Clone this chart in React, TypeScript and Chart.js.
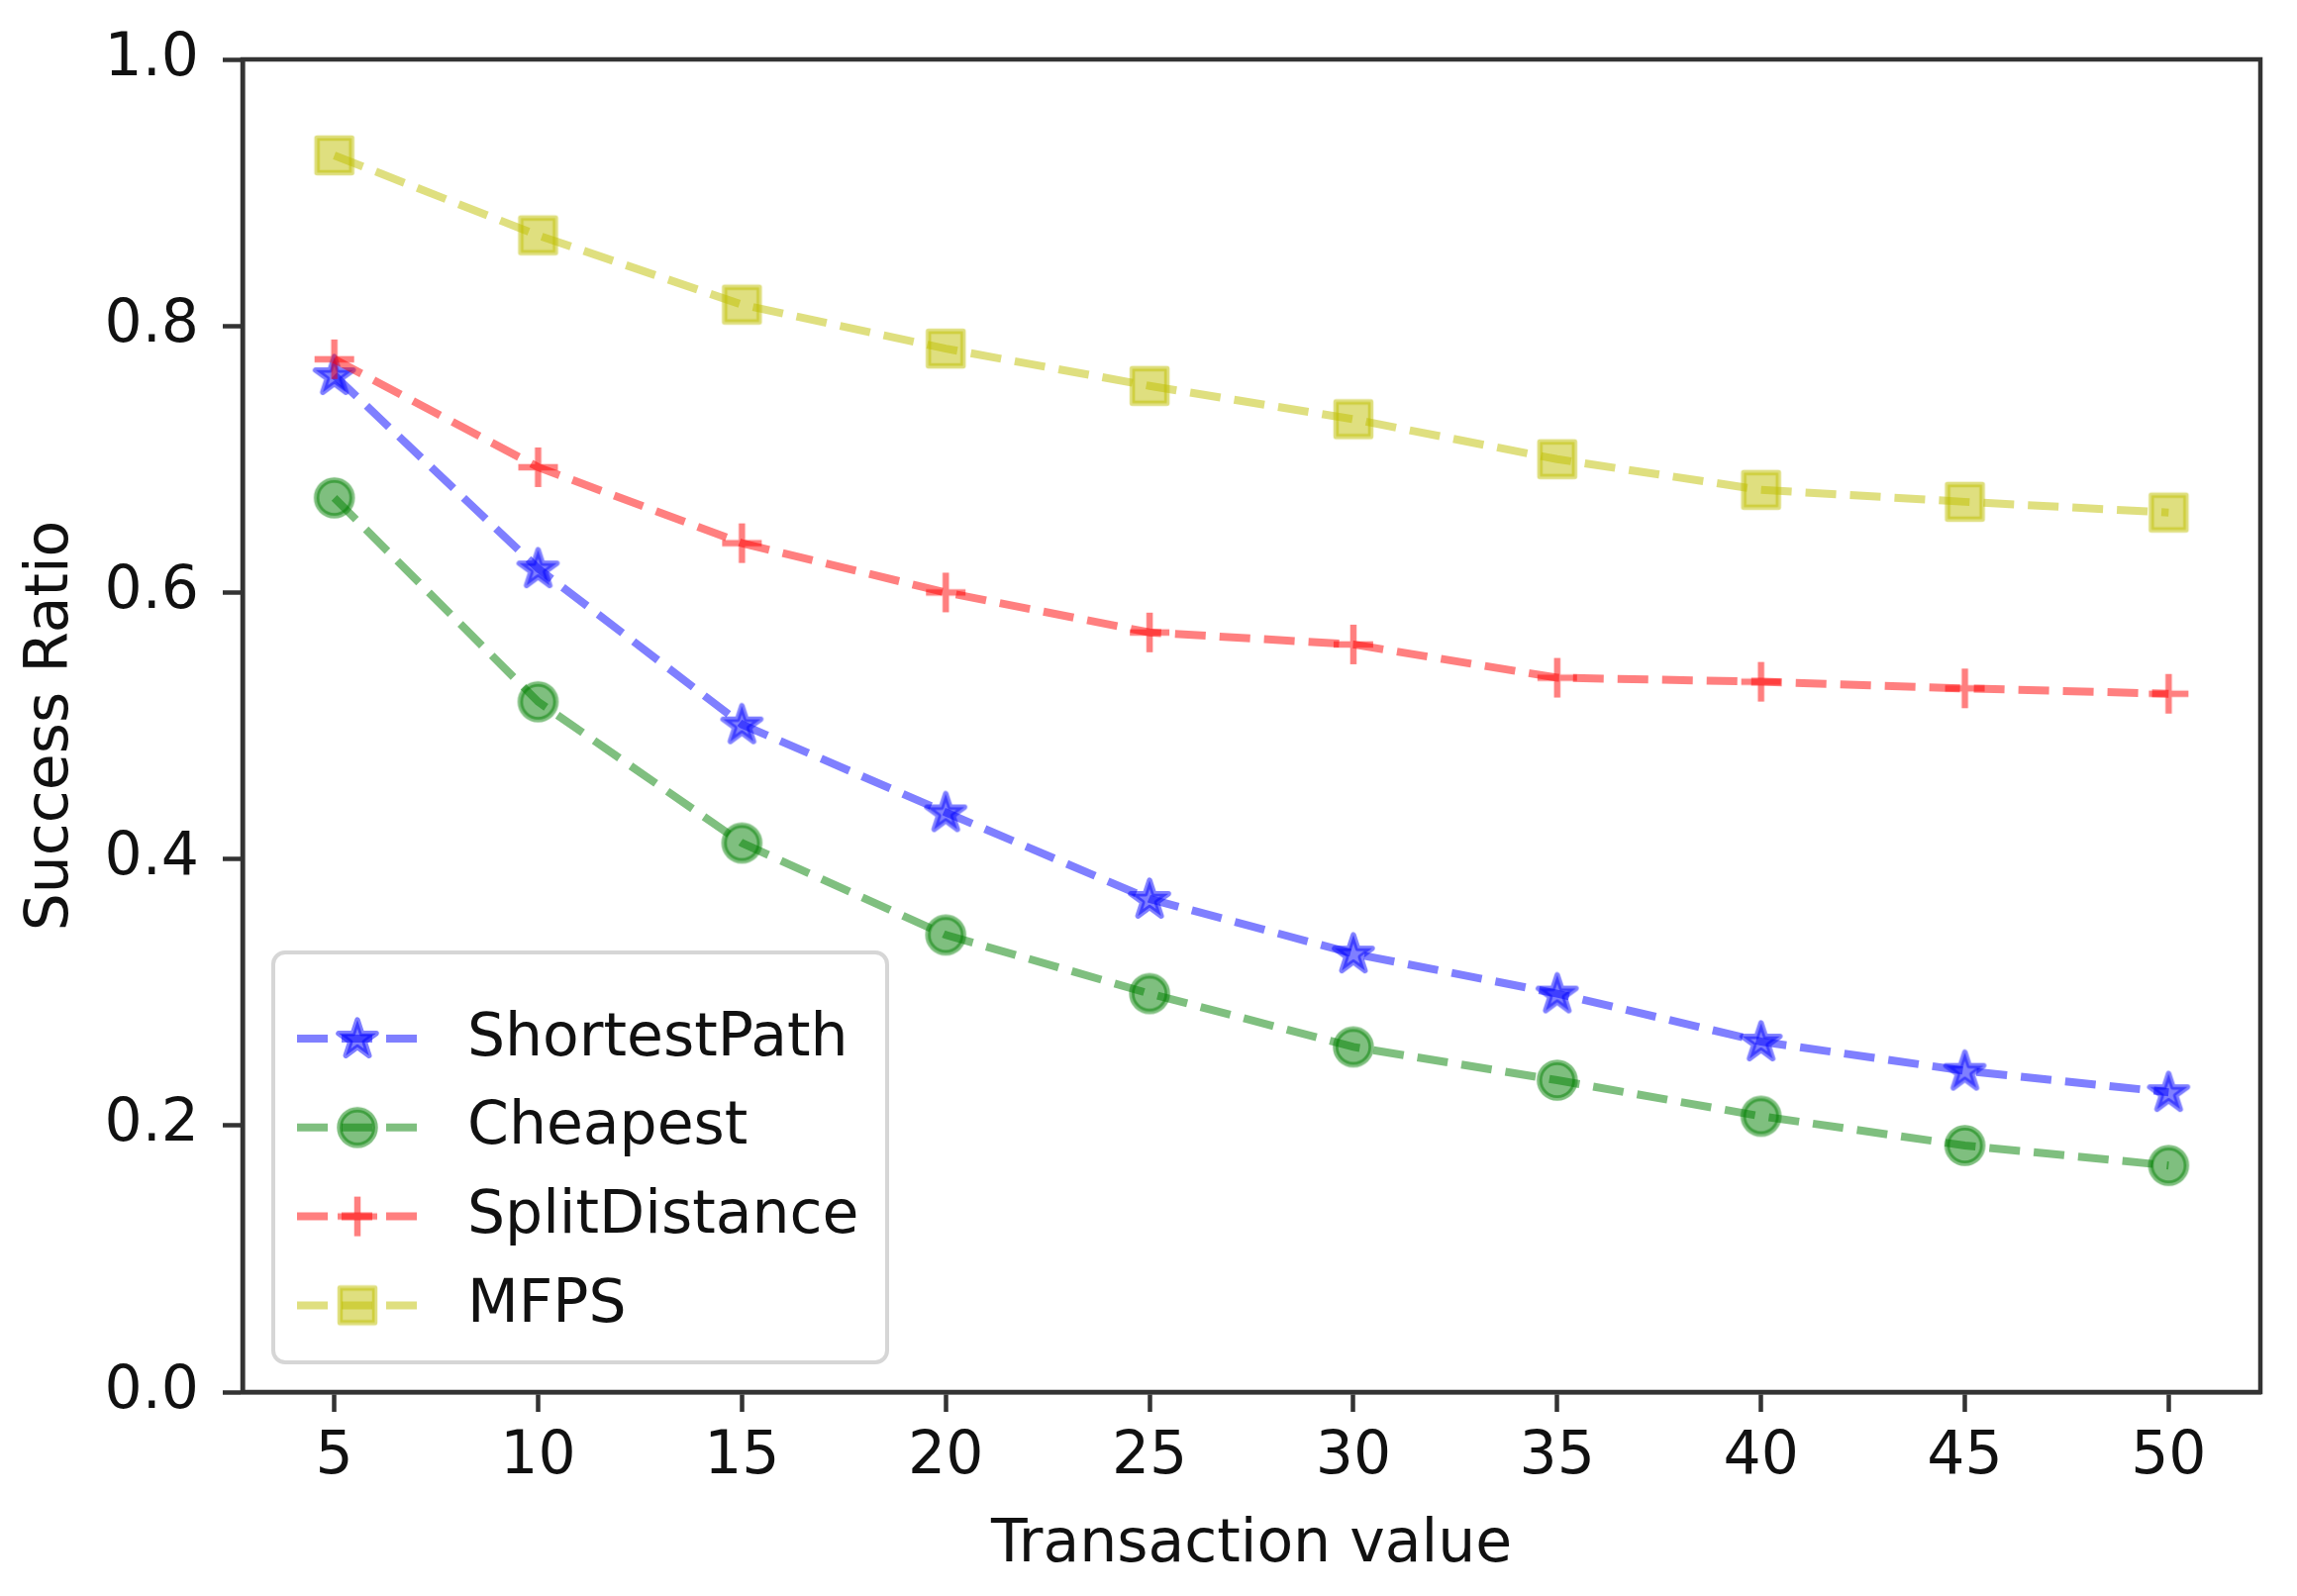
import React, { useEffect, useRef } from 'react';
import { Chart, registerables } from 'chart.js';

Chart.register(...registerables);

// ---- data ----
const xValues = [5, 10, 15, 20, 25, 30, 35, 40, 45, 50];
const shortestPath = [0.763, 0.618, 0.501, 0.435, 0.370, 0.329, 0.299, 0.263, 0.241, 0.225];
const cheapest = [0.671, 0.518, 0.412, 0.343, 0.299, 0.259, 0.234, 0.207, 0.185, 0.170];
const splitDistance = [0.775, 0.694, 0.637, 0.600, 0.570, 0.561, 0.536, 0.533, 0.528, 0.524];
const mfps = [0.928, 0.868, 0.816, 0.783, 0.755, 0.730, 0.700, 0.677, 0.668, 0.660];
const seriesLabels = ['ShortestPath', 'Cheapest', 'SplitDistance', 'MFPS'];
const xTickValues = [5, 10, 15, 20, 25, 30, 35, 40, 45, 50];
const yTickValues = [0.0, 0.2, 0.4, 0.6, 0.8, 1.0];
const xTitle = 'Transaction value';
const yTitle = 'Success Ratio';

// ---- styles ----
const FONT = 'DejaVu Sans';
const LINE_W = 8;
const DASH = [31, 14];
const seriesRGB = ['0,0,255', '0,128,0', '255,0,0', '191,191,0'];
const seriesMarker = ['star', 'circle', 'plus', 'square'];

function makeMarker(kind: string, rgb: string): HTMLCanvasElement {
  const size = 60;
  const c = document.createElement('canvas');
  c.width = size;
  c.height = size;
  const ctx = c.getContext('2d') as CanvasRenderingContext2D;
  const cx = size / 2;
  const cy = size / 2;
  const col = `rgba(${rgb},0.5)`;
  ctx.fillStyle = col;
  ctx.strokeStyle = col;
  ctx.lineWidth = 5.5;
  ctx.lineJoin = 'round';
  ctx.lineCap = 'butt';
  ctx.beginPath();
  if (kind === 'circle') {
    ctx.arc(cx, cy, 18, 0, Math.PI * 2);
  } else if (kind === 'square') {
    const r = 17.5;
    ctx.rect(cx - r, cy - r, 2 * r, 2 * r);
  } else if (kind === 'star') {
    const r = 20;
    const inner = r * 0.381966;
    for (let i = 0; i < 10; i++) {
      const rad = i % 2 === 0 ? r : inner;
      const a = -Math.PI / 2 + (i * Math.PI) / 5;
      const px = cx + rad * Math.cos(a);
      const py = cy + 1 + rad * Math.sin(a);
      if (i === 0) ctx.moveTo(px, py);
      else ctx.lineTo(px, py);
    }
    ctx.closePath();
  } else if (kind === 'plus') {
    const r = 20;
    ctx.lineWidth = 6.5;
    ctx.moveTo(cx - r, cy);
    ctx.lineTo(cx + r, cy);
    ctx.moveTo(cx, cy - r);
    ctx.lineTo(cx, cy + r);
  }
  if (kind !== 'plus') ctx.fill();
  ctx.stroke();
  return c;
}

export default function App() {
  const ref = useRef<HTMLCanvasElement | null>(null);

  useEffect(() => {
    document.body.style.margin = '0';
    const canvas = ref.current;
    if (!canvas) return;
    const seriesValues = [shortestPath, cheapest, splitDistance, mfps];
    const markers = seriesMarker.map((k, i) => makeMarker(k, seriesRGB[i]));

    const datasets = seriesLabels.map((label, i) => ({
      label,
      data: xValues.map((x, j) => ({ x, y: seriesValues[i][j] })),
      borderColor: `rgba(${seriesRGB[i]},0.5)`,
      backgroundColor: `rgba(${seriesRGB[i]},0.5)`,
      borderWidth: LINE_W,
      borderDash: DASH,
      borderCapStyle: 'butt' as const,
      pointStyle: markers[i],
      pointRadius: 10,
      pointHoverRadius: 10,
      tension: 0,
      fill: false,
      order: seriesLabels.length - i,
    }));

    const frameAndLegend = {
      id: 'frameAndLegend',
      afterDatasetsDraw(chart: any) {
        const { ctx, chartArea } = chart;
        const a = chartArea;
        ctx.save();
        // frame
        ctx.strokeStyle = '#333333';
        ctx.lineWidth = 4.5;
        ctx.setLineDash([]);
        ctx.strokeRect(a.left, a.top, a.right - a.left, a.bottom - a.top);

        // legend
        const boxLeft = a.left + 31;
        const boxBottom = a.bottom - 30;
        const boxW = 620;
        const boxH = 414;
        const boxTop = boxBottom - boxH;
        const rr = 12;
        ctx.beginPath();
        ctx.moveTo(boxLeft + rr, boxTop);
        ctx.lineTo(boxLeft + boxW - rr, boxTop);
        ctx.arcTo(boxLeft + boxW, boxTop, boxLeft + boxW, boxTop + rr, rr);
        ctx.lineTo(boxLeft + boxW, boxBottom - rr);
        ctx.arcTo(boxLeft + boxW, boxBottom, boxLeft + boxW - rr, boxBottom, rr);
        ctx.lineTo(boxLeft + rr, boxBottom);
        ctx.arcTo(boxLeft, boxBottom, boxLeft, boxBottom - rr, rr);
        ctx.lineTo(boxLeft, boxTop + rr);
        ctx.arcTo(boxLeft, boxTop, boxLeft + rr, boxTop, rr);
        ctx.closePath();
        ctx.fillStyle = 'rgba(255,255,255,0.8)';
        ctx.fill();
        ctx.strokeStyle = 'rgba(204,204,204,0.8)';
        ctx.lineWidth = 4;
        ctx.stroke();

        const handleX0 = boxLeft + 24;
        const handleLen = 122;
        const textX = handleX0 + handleLen + 50;
        ctx.font = `60px "${FONT}"`;
        ctx.textBaseline = 'middle';
        ctx.textAlign = 'left';
        seriesLabels.forEach((label, i) => {
          const cy = boxTop + 87 + i * 89.8;
          ctx.beginPath();
          ctx.setLineDash(DASH);
          ctx.lineDashOffset = 0;
          ctx.lineCap = 'butt';
          ctx.strokeStyle = `rgba(${seriesRGB[i]},0.5)`;
          ctx.lineWidth = LINE_W;
          ctx.moveTo(handleX0, cy);
          ctx.lineTo(handleX0 + handleLen, cy);
          ctx.stroke();
          ctx.setLineDash([]);
          const m = markers[i];
          ctx.drawImage(m, handleX0 + handleLen / 2 - m.width / 2, cy - m.height / 2);
          ctx.fillStyle = '#111111';
          ctx.fillText(label, textX, cy + 1);
        });
        ctx.restore();
      },
    };

    const chart = new Chart(canvas, {
      type: 'line',
      data: { datasets } as any,
      options: {
        animation: false,
        responsive: false,
        events: [],
        layout: { padding: { top: 56, right: 37, left: 0, bottom: 0 } },
        plugins: {
          legend: { display: false },
          tooltip: { enabled: false },
        },
        scales: {
          x: {
            type: 'linear',
            min: 2.75,
            max: 52.25,
            afterFit: (s: any) => {
              s.height = 206;
            },
            afterBuildTicks: (s: any) => {
              s.ticks = xTickValues.map((v) => ({ value: v }));
            },
            ticks: {
              color: '#111111',
              font: { family: FONT, size: 60 },
              padding: 10,
              maxRotation: 0,
              autoSkip: false,
              callback: (v: any) => String(v),
            },
            grid: {
              drawOnChartArea: false,
              drawTicks: true,
              tickLength: 20,
              tickWidth: 4.5,
              tickColor: '#333333',
            },
            border: { display: true, color: '#333333', width: 4.5 },
            title: {
              display: true,
              text: xTitle,
              color: '#111111',
              font: { family: FONT, size: 60 },
              padding: { top: 0, bottom: 15 },
            },
          },
          y: {
            type: 'linear',
            min: 0,
            max: 1,
            afterFit: (s: any) => {
              s.width = 245;
            },
            afterBuildTicks: (s: any) => {
              s.ticks = yTickValues.map((v) => ({ value: v }));
            },
            ticks: {
              color: '#111111',
              font: { family: FONT, size: 60 },
              padding: 24,
              autoSkip: false,
              callback: (v: any) => Number(v).toFixed(1),
            },
            grid: {
              drawOnChartArea: false,
              drawTicks: true,
              tickLength: 20,
              tickWidth: 4.5,
              tickColor: '#333333',
            },
            border: { display: true, color: '#333333', width: 4.5 },
            title: {
              display: true,
              text: yTitle,
              color: '#111111',
              font: { family: FONT, size: 60 },
              padding: { top: 16, bottom: 0 },
            },
          },
        },
      },
      plugins: [frameAndLegend],
    } as any);

    return () => {
      chart.destroy();
    };
  }, []);

  return (
    <div style={{ width: 2320, height: 1612, background: '#ffffff' }}>
      <canvas ref={ref} width={2320} height={1612} style={{ display: 'block' }} />
    </div>
  );
}
